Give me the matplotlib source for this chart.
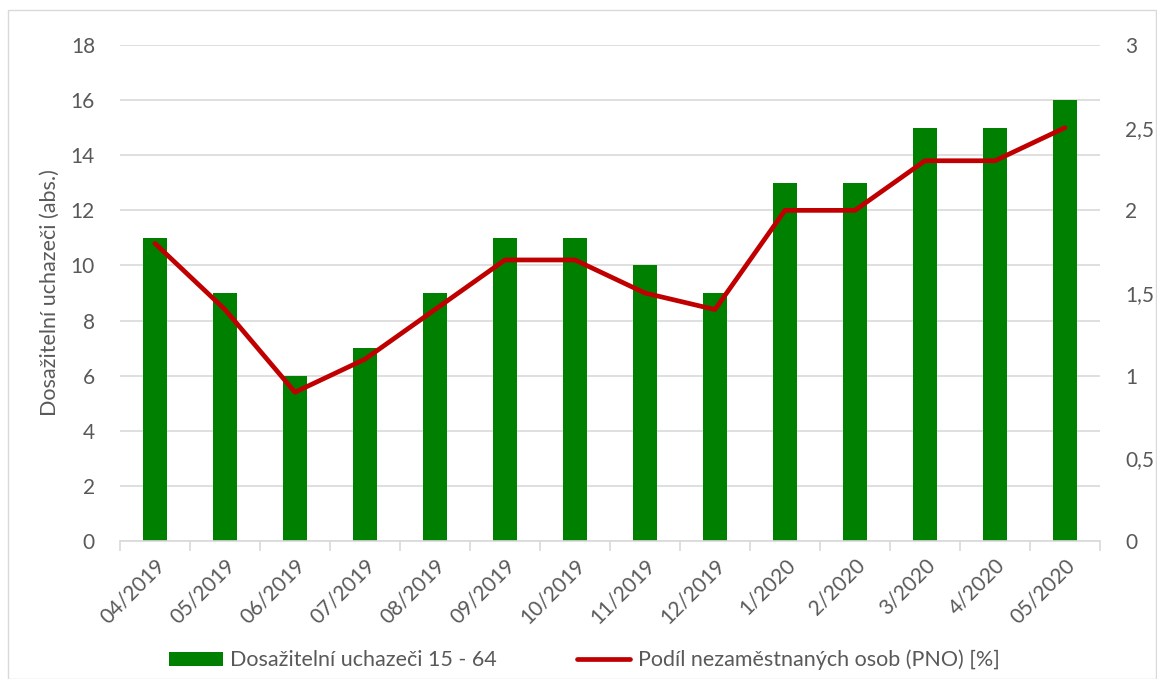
import numpy as np
import matplotlib.pyplot as plt
from matplotlib.ticker import FuncFormatter, MultipleLocator
from matplotlib.patches import Rectangle

plt.rcParams['font.family'] = ['Lato', 'DejaVu Sans']

months = ['04/2019', '05/2019', '06/2019', '07/2019', '08/2019', '09/2019', '10/2019',
          '11/2019', '12/2019', '1/2020', '2/2020', '3/2020', '4/2020', '05/2020']
uchazeci = [11, 9, 6, 7, 9, 11, 11, 10, 9, 13, 13, 15, 15, 16]
pno = [1.8, 1.4, 0.9, 1.1, 1.4, 1.7, 1.7, 1.5, 1.4, 2.0, 2.0, 2.3, 2.3, 2.5]

gray = '#595959'
grid = '#d9d9d9'

fig = plt.figure(figsize=(11.57, 6.79), dpi=100)
ax1 = fig.add_axes([0.1037, 0.2032, 0.847, 0.7305])
ax2 = ax1.twinx()

x = np.arange(len(months))
bars = ax1.bar(x, uchazeci, width=0.34, color='#008000', zorder=2,
               label='Dosažitelní uchazeči 15 - 64')
line, = ax2.plot(x, pno, color='#c00000', lw=3.4, solid_capstyle='round',
                 label='Podíl nezaměstnaných osob (PNO) [%]')

ax1.set_xlim(-0.5, len(months) - 0.5)
ax1.set_ylim(0, 18)
ax2.set_ylim(0, 3)
ax1.yaxis.set_major_locator(MultipleLocator(2))
ax2.yaxis.set_major_locator(MultipleLocator(0.5))
ax2.yaxis.set_major_formatter(FuncFormatter(lambda v, p: ('%g' % v).replace('.', ',')))

ax1.grid(axis='y', color=grid, lw=1.2, zorder=0)
ax1.set_axisbelow(True)

for ax in (ax1, ax2):
    for s in ax.spines.values():
        s.set_visible(False)
    ax.tick_params(axis='y', length=0, labelsize=15, labelcolor=gray, pad=18)
ax1.spines['bottom'].set_visible(True)
ax1.spines['bottom'].set_color(grid)
ax1.spines['bottom'].set_linewidth(1.2)

ax1.set_xticks(x)
ax1.set_xticklabels(months, rotation=45, ha='right', rotation_mode='anchor')
ax1.set_xticks(np.arange(-0.5, len(months)), minor=True)
ax1.tick_params(axis='x', which='major', length=0, labelsize=15, labelcolor=gray, pad=10)
ax1.tick_params(axis='x', which='minor', length=7, color=grid, width=1.2)

ax1.set_ylabel('Dosažitelní uchazeči (abs.)', fontsize=15.5, color=gray, labelpad=8)

leg = fig.legend(handles=[bars, line], loc='center', bbox_to_anchor=(0.505, 0.028), ncol=2,
                 frameon=False, fontsize=15.5, labelcolor=gray, handlelength=2.5,
                 handleheight=0.65, handletextpad=0.35, columnspacing=3.7)

fig.patches.append(Rectangle((8 / 1157, 0), 1 - 8 / 1157 - 0.001, 1 - 10 / 679,
                             transform=fig.transFigure, fill=False, ec='#d9d9d9', lw=1))

fig.savefig('out.png', dpi=100)
